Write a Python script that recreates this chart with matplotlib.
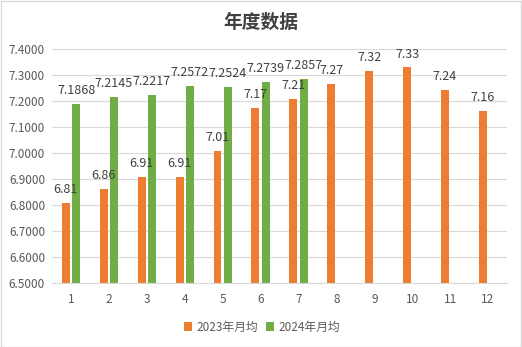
import matplotlib.pyplot as plt
import numpy as np

plt.rcParams['font.family'] = ['Noto Sans CJK SC', 'DejaVu Sans']

months = ['1', '2', '3', '4', '5', '6', '7', '8', '9', '10', '11', '12']
avg_2023 = [6.807, 6.862, 6.908, 6.906, 7.006, 7.172, 7.206, 7.267, 7.317, 7.329, 7.244, 7.160]
avg_2024 = [7.1868, 7.2145, 7.2217, 7.2572, 7.2524, 7.2739, 7.2857]
yticks = [6.5, 6.6, 6.7, 6.8, 6.9, 7.0, 7.1, 7.2, 7.3, 7.4]

c23 = '#ED7D31'
c24 = '#70AD47'
txt = '#404040'
grey = '#595959'

fig = plt.figure(figsize=(5.22, 3.47), dpi=100)
ax = fig.add_axes([52 / 522, 1 - 283 / 347, 455 / 522, 234 / 347])

x = np.arange(1, len(months) + 1)
w = 0.21
off = 0.135
b23 = ax.bar(x - off, avg_2023, w, color=c23, label='2023年月均', zorder=2)
b24 = ax.bar(x[:len(avg_2024)] + off, avg_2024, w, color=c24, label='2024年月均', zorder=2)

for bar, v in zip(b23, avg_2023):
    ax.annotate(f'{v:.2f}', (bar.get_x() + bar.get_width() / 2, v), xytext=(0, 5),
                textcoords='offset points', ha='center', va='bottom', fontsize=9, color=txt)
for bar, v in zip(b24, avg_2024):
    ax.annotate(f'{v:.4f}', (bar.get_x() + bar.get_width() / 2, v), xytext=(0, 5),
                textcoords='offset points', ha='center', va='bottom', fontsize=9, color=txt)

ax.set_xlim(0.5, 12.5)
ax.set_ylim(6.5, 7.4)
ax.set_yticks(yticks)
ax.set_yticklabels([f'{t:.4f}' for t in yticks])
ax.set_xticks(x)
ax.set_xticklabels(months)
ax.tick_params(axis='both', length=0, labelsize=8.5, labelcolor=grey)
ax.tick_params(axis='x', pad=7)
ax.tick_params(axis='y', pad=5)
ax.grid(axis='y', color='#D9D9D9', linewidth=0.8, zorder=0)
for s in ['top', 'right', 'left']:
    ax.spines[s].set_visible(False)
ax.spines['bottom'].set_color('#D9D9D9')

fig.text(261 / 522, 1 - 22 / 347, '年度数据', ha='center', va='center',
         fontsize=13.5, fontweight='bold', color=txt)

fig.legend(loc='center', bbox_to_anchor=(262 / 522, 1 - 327 / 347), ncol=2, frameon=False,
           fontsize=8.5, labelcolor=grey, handlelength=0.7, handleheight=0.7,
           handletextpad=0.4, columnspacing=0.6)

fig.patches.append(plt.Rectangle((0.001, 0.001), 0.997, 0.997, transform=fig.transFigure,
                                 fill=False, edgecolor='#D9D9D9', linewidth=1))

fig.savefig('out.png', dpi=100)
